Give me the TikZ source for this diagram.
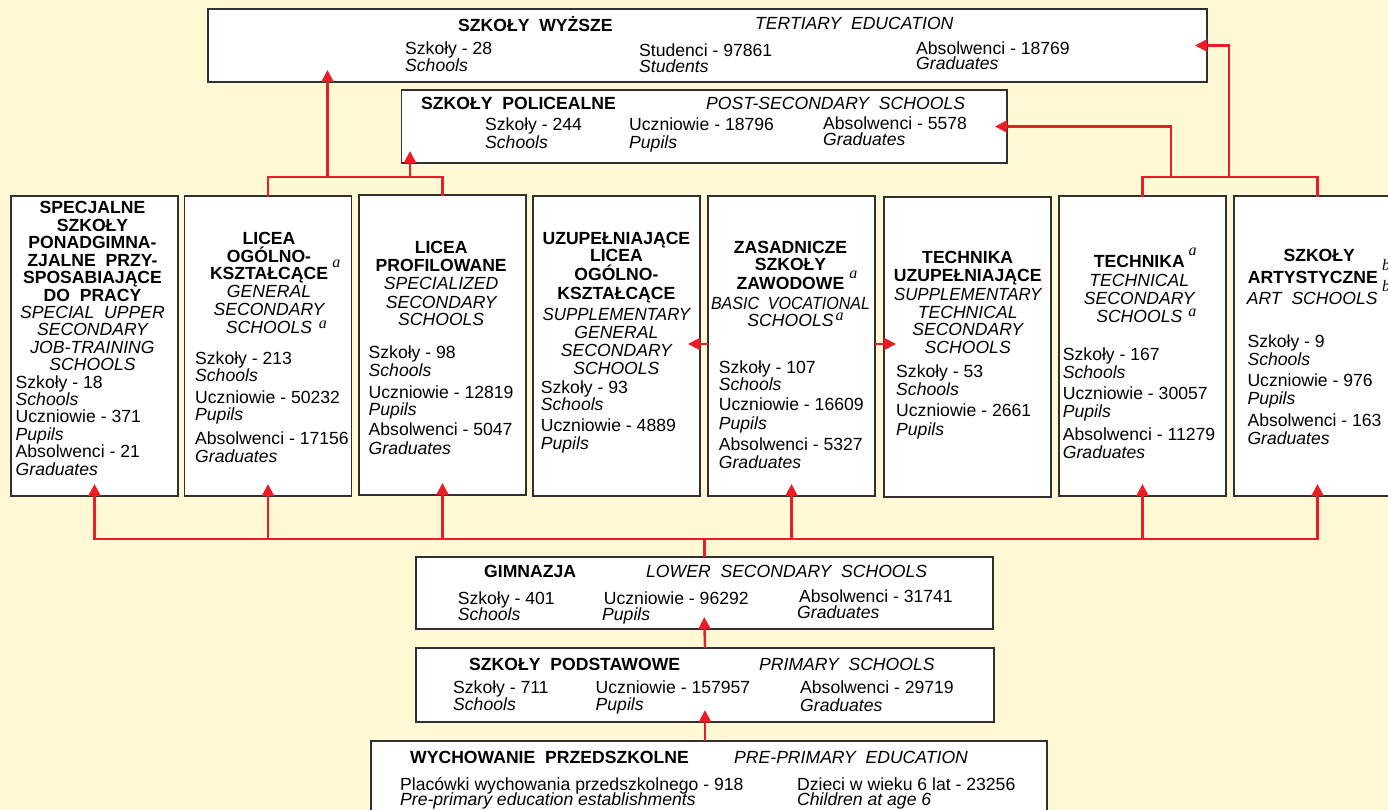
\documentclass[tikz,border=0pt]{standalone}
\usepackage{fontspec}
\usepackage{graphicx}
\setmainfont{Liberation Sans}
\newfontfamily\supf{Liberation Serif}
\usetikzlibrary{arrows.meta}
\definecolor{bgc}{HTML}{FFFAD5}
\definecolor{redc}{HTML}{ED1C24}
\definecolor{bordc}{HTML}{303030}
\newcommand\fsz{\fontsize{17.6}{18}\selectfont}
\newcommand\tlines[3]{\foreach \yv/\tv [count=\k] in {#3} {\node[tl] (#2\k) at (#1,\yv) {\tv};}}
\newcommand\dlines[3]{\foreach \yv/\tv [count=\k] in {#3} {\node[dl] (#2\k) at (#1,\yv) {\tv};}}
\begin{document}
\begin{tikzpicture}[x=1pt,y=-1pt,
 box/.style={draw=bordc,line width=1.2pt,fill=white,inner sep=0pt,outer sep=0pt},
 colbox/.style={box,minimum width=167pt,minimum height=300pt},
 tl/.style={anchor=base,inner sep=0pt,font=\fsz},
 dl/.style={anchor=base west,inner sep=0pt,font=\fsz},
 sup/.style={anchor=base,inner sep=0pt,font=\fontsize{16}{16}\selectfont\supf\itshape},
 rl/.style={draw=redc,line width=2.4pt},
 ra/.style={rl,-{Triangle[length=12pt,width=12pt]},shorten >=-12pt}]
\useasboundingbox (0,0) rectangle (1388,810);
\clip (0,0) rectangle (1388,810);
\fill[bgc] (0,0) rectangle (1388,810);

% boxes
\node[box,minimum width=999pt,minimum height=73pt] (top) at (707.5,45.5) {};
\node[box,minimum width=605.5pt,minimum height=73pt] (post) at (704.25,126.5) {};
\node[colbox] (b1) at (94.5,346) {};
\node[colbox] (b2) at (268,346) {};
\node[colbox] (b3) at (442.5,345) {};
\node[colbox] (b4) at (616.5,346) {};
\node[colbox] (b5) at (791.5,346) {};
\node[colbox] (b6) at (967.5,347) {};
\node[colbox] (b7) at (1142.5,346) {};
\node[colbox] (b8) at (1317.5,346) {};
\node[box,minimum width=577pt,minimum height=72pt] (gim) at (704.5,593) {};
\node[box,minimum width=578pt,minimum height=74pt] (pod) at (705,685) {};
\node[box,minimum width=676pt,minimum height=100pt] (prz) at (709,791) {};

% connectors
\coordinate (bus) at (0,539);
\coordinate (tb) at (0,177);
\coordinate (sd) at (0,344);
\draw[rl] (gim.north) -- (gim.north |- bus);
\draw[rl,line cap=rect] (b1.south |- bus) -- (b8.south |- bus);
\foreach \b in {b1,b2,b3,b5,b7,b8} {\draw[ra] (\b.south |- bus) -- (\b.south);}
\draw[rl,line cap=rect,line join=miter] (b2.north) |- (b3.north |- tb) -- (b3.north);
\draw[rl,line cap=rect,line join=miter] (b7.north) |- (b8.north |- tb) -- (b8.north);
\coordinate (ta) at (327.5,177);
\coordinate (tp) at (410,177);
\coordinate (rp) at (1171,177);
\coordinate (rt) at (1229,177);
\draw[ra] (ta) -- (ta |- top.south);
\draw[ra] (tp) -- (tp |- post.south);
\draw[ra,line join=miter] (rp) |- (post.east);
\draw[ra,line join=miter] (rt) |- (top.east);
\draw[ra] (b5.west |- sd) -- (b4.east |- sd);
\draw[ra] (b5.east |- sd) -- (b6.west |- sd);
\draw[ra] (pod.north) -- (gim.south);
\draw[ra] (prz.north -| pod.south) -- (pod.south);

% top box text
\node[dl] (topA) at (458,32) {\bfseries SZKOŁY\ \ WYŻSZE};
\node[dl] (topB) at (755,30) {\itshape TERTIARY\ \ EDUCATION};
\node[dl] (topC) at (405,55) {Szkoły - 28};
\node[dl] (topD) at (405,72) {\itshape Schools};
\node[dl] (topE) at (639,56.5) {Studenci - 97861};
\node[dl] (topF) at (639,72.5) {\itshape Students};
\node[dl] (topG) at (916,54.3) {Absolwenci - 18769};
\node[dl] (topH) at (916,69.3) {\itshape Graduates};

% post-secondary text
\node[dl] (posA) at (421,110) {\bfseries SZKOŁY\ \ POLICEALNE};
\node[dl] (posB) at (706,110) {\itshape POST-SECONDARY\ \ SCHOOLS};
\node[dl] (posC) at (485,131) {Szkoły - 244};
\node[dl] (posD) at (485,148.7) {\itshape Schools};
\node[dl] (posE) at (629,131) {Uczniowie - 18796};
\node[dl] (posF) at (629,149) {\itshape Pupils};
\node[dl] (posG) at (823,130) {Absolwenci - 5578};
\node[dl] (posH) at (823,146) {\itshape Graduates};

% column 1
\tlines{92.5}{ta1}{214/\bfseries SPECJALNE, 231.4/\bfseries SZKOŁY, 248.8/\bfseries PONADGIMNA-, 266.2/\bfseries ZJALNE\ \ PRZY-, 283.6/\bfseries SPOSABIAJĄCE, 301/\bfseries DO\ \ PRACY, 318.4/\itshape SPECIAL\ \ UPPER, 335.8/\itshape SECONDARY, 353.2/\itshape JOB-TRAINING, 370.6/\itshape SCHOOLS}
\dlines{15.5}{da1}{388/Szkoły - 18, 405.4/\itshape Schools, 422.8/Uczniowie - 371, 440.2/\itshape Pupils, 457.6/Absolwenci - 21, 475/\itshape Graduates}

% column 2
\tlines{269}{ta2}{244/\bfseries LICEA, 262.3/\bfseries OGÓLNO-, 279.7/\bfseries KSZTAŁCĄCE, 297.3/\itshape GENERAL, 315.7/\itshape SECONDARY, 333.3/\itshape SCHOOLS}
\node[sup] (sa2a) at (336.4,267.3) {a};
\node[sup] (sa2b) at (322.9,328.3) {a};
\dlines{195}{da2}{364/Szkoły - 213, 381.7/\itshape Schools, 403/Uczniowie - 50232, 420.7/\itshape Pupils, 444/Absolwenci - 17156, 462.3/\itshape Graduates}

% column 3
\tlines{441.2}{ta3}{254/\bfseries LICEA, 271.7/\bfseries PROFILOWANE, 289.7/\itshape SPECIALIZED, 308/\itshape SECONDARY, 325.7/\itshape SCHOOLS}
\dlines{368.5}{da3}{358/Szkoły - 98, 376/\itshape Schools, 398/Uczniowie - 12819, 415.7/\itshape Pupils, 435.7/Absolwenci - 5047, 454/\itshape Graduates}

% column 4
\tlines{616.4}{ta4}{244/\bfseries UZUPEŁNIAJĄCE, 261.7/\bfseries LICEA, 280/\bfseries OGÓLNO-, 299/\bfseries KSZTAŁCĄCE, 320/\scalebox{0.96}[1]{\itshape SUPPLEMENTARY}, 338/\itshape GENERAL, 356/\itshape SECONDARY, 374/\itshape SCHOOLS}
\dlines{540.7}{da4}{393/Szkoły - 93, 410.7/\itshape Schools, 431.7/Uczniowie - 4889, 449.7/\itshape Pupils}

% column 5
\tlines{790.5}{ta5}{253/\bfseries ZASADNICZE, 270.7/\bfseries SZKOŁY, 289/\bfseries ZAWODOWE, 309/\scalebox{0.91}[1]{\itshape BASIC\ \ VOCATIONAL}, 326.7/\itshape SCHOOLS}
\node[sup] (sa5a) at (853.3,278.3) {a};
\node[sup] (sa5b) at (839.6,320) {a};
\dlines{718.7}{da5}{373/Szkoły - 107, 390.7/\itshape Schools, 410.7/Uczniowie - 16609, 429/\itshape Pupils, 450/Absolwenci - 5327, 468.3/\itshape Graduates}

% column 6
\tlines{967.7}{ta6}{263/\bfseries TECHNIKA, 281.7/\bfseries UZUPEŁNIAJĄCE, 300/\scalebox{0.96}[1]{\itshape SUPPLEMENTARY}, 318/\itshape TECHNICAL, 335.7/\itshape SECONDARY, 353.7/\itshape SCHOOLS}
\dlines{896}{da6}{377.3/Szkoły - 53, 395.7/\itshape Schools, 416.7/Uczniowie - 2661, 435/\itshape Pupils}

% column 7
\tlines{1139.3}{ta7}{267.3/\bfseries TECHNIKA, 286.3/\itshape TECHNICAL, 304.7/\itshape SECONDARY, 322.3/\itshape SCHOOLS}
\node[sup] (sa7a) at (1192.7,255.3) {a};
\node[sup] (sa7b) at (1192.3,316.7) {a};
\dlines{1062.7}{da7}{360/Szkoły - 167, 378/\itshape Schools, 399/Uczniowie - 30057, 417/\itshape Pupils, 440.7/Absolwenci - 11279, 458.3/\itshape Graduates}

% column 8
\node[tl] (ta81) at (1319.2,261.3) {\bfseries SZKOŁY};
\node[tl] (ta82) at (1312.8,283) {\bfseries ARTYSTYCZNE};
\node[tl] (ta83) at (1312.2,304.7) {\itshape ART\ \ SCHOOLS};
\node[sup] (sa8a) at (1386,270) {b};
\node[sup] (sa8b) at (1386,291.7) {b};
\dlines{1247.3}{da8}{347.3/Szkoły - 9, 365/\itshape Schools, 386.3/Uczniowie - 976, 404/\itshape Pupils, 426.3/Absolwenci - 163, 444.7/\itshape Graduates}

% gimnazja text
\node[dl] (gimA) at (484,577) {\bfseries GIMNAZJA};
\node[dl] (gimB) at (646,577) {\itshape LOWER\ \ SECONDARY\ \ SCHOOLS};
\node[dl] (gimC) at (457.6,604) {Szkoły - 401};
\node[dl] (gimD) at (457.6,620) {\itshape Schools};
\node[dl] (gimE) at (603.7,604) {Uczniowie - 96292};
\node[dl] (gimF) at (602,620.5) {\itshape Pupils};
\node[dl] (gimG) at (799,602.7) {Absolwenci - 31741};
\node[dl] (gimH) at (797,618.7) {\itshape Graduates};

% podstawowe text
\node[dl] (podA) at (469,670) {\bfseries SZKOŁY\ \ PODSTAWOWE};
\node[dl] (podB) at (759,670) {\itshape PRIMARY\ \ SCHOOLS};
\node[dl] (podC) at (453,693.3) {Szkoły - 711};
\node[dl] (podD) at (453,710.7) {\itshape Schools};
\node[dl] (podE) at (595.5,693) {Uczniowie - 157957};
\node[dl] (podF) at (595.5,710) {\itshape Pupils};
\node[dl] (podG) at (800,693) {Absolwenci - 29719};
\node[dl] (podH) at (800,711) {\itshape Graduates};

% przedszkolne text
\node[dl] (przA) at (410,763.3) {\bfseries WYCHOWANIE\ \ PRZEDSZKOLNE};
\node[dl] (przB) at (734,763.3) {\itshape PRE-PRIMARY\ \ EDUCATION};
\node[dl] (przC) at (400,790.5) {Placówki wychowania przedszkolnego - 918};
\node[dl] (przD) at (400,805) {\itshape Pre-primary education establishments};
\node[dl] (przE) at (797,790.5) {Dzieci w wieku 6 lat - 23256};
\node[dl] (przF) at (797,805) {\itshape Children at age 6};
\end{tikzpicture}
\end{document}
